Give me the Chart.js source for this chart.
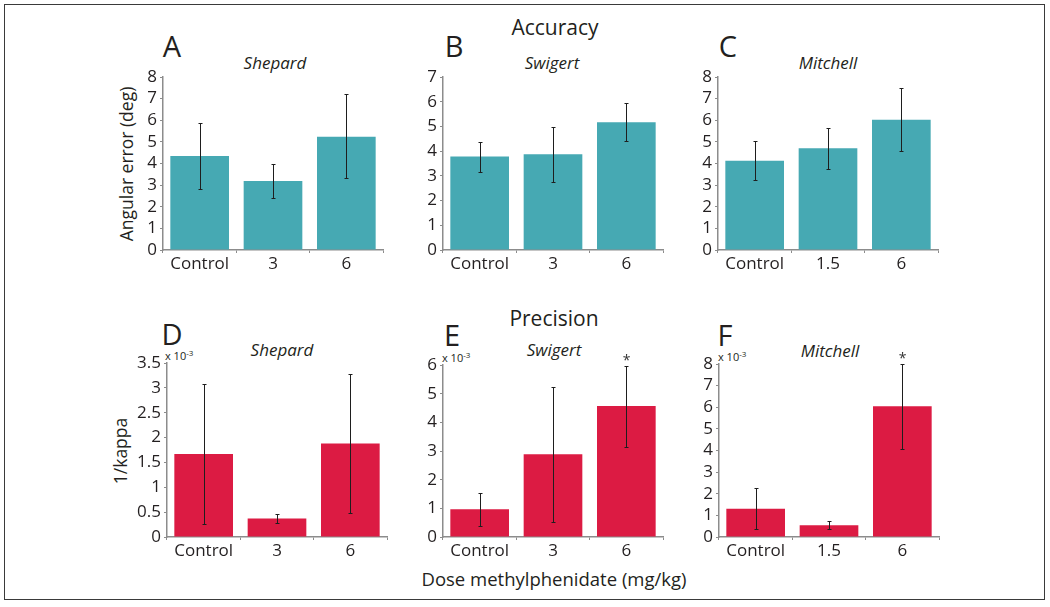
<!DOCTYPE html>
<html>
<head>
<meta charset="utf-8">
<script src="https://cdn.jsdelivr.net/npm/chart.js@4.4.0/dist/chart.umd.min.js"></script>
<style>
body { margin: 0; background: #fff; font-family: "Open Sans", sans-serif; color: #231f20; }
#fig { position: relative; width: 1050px; height: 607px; overflow: hidden; }
#frame { position: absolute; left: 4px; top: 4px; width: 1039px; height: 594px; border: 1.5px solid #3a3a3a; }
canvas { position: absolute; }
.t { position: absolute; white-space: nowrap; line-height: 1; transform: translate(-50%, -50%); }
.big { font-size: 21px; }
.letter { font-size: 29px; }
.sub { font-size: 17px; font-style: italic; }
.ytitle { font-size: 17.5px; transform: translate(-50%, -50%) rotate(-90deg); }
.exp { position: absolute; font-size: 11px; line-height: 1; white-space: nowrap; }
.exp sup { font-size: 8px; vertical-align: 4px; }
</style>
</head>
<body>
<div id="fig">
  <div id="frame"></div>

  <div class="t big" style="left:555px;top:27px">Accuracy</div>
  <div class="t big" style="left:554px;top:318px">Precision</div>

  <div class="t letter" style="left:172px;top:45px">A</div>
  <div class="t letter" style="left:454px;top:45px">B</div>
  <div class="t letter" style="left:728px;top:45px">C</div>
  <div class="t letter" style="left:172px;top:333px">D</div>
  <div class="t letter" style="left:452px;top:334px">E</div>
  <div class="t letter" style="left:725px;top:334px">F</div>

  <div class="t sub" style="left:275px;top:62px">Shepard</div>
  <div class="t sub" style="left:552px;top:62px">Swigert</div>
  <div class="t sub" style="left:828px;top:62px">Mitchell</div>
  <div class="t sub" style="left:282px;top:349px">Shepard</div>
  <div class="t sub" style="left:554px;top:349px">Swigert</div>
  <div class="t sub" style="left:830px;top:350px">Mitchell</div>

  <div class="t ytitle" style="left:127px;top:164px">Angular error (deg)</div>
  <div class="t ytitle" style="left:121px;top:451px">1/kappa</div>
  <div class="t" style="left:554px;top:579px;font-size:18.5px">Dose methylphenidate (mg/kg)</div>

  <div class="exp" style="left:165px;top:349px">x 10<sup>-3</sup></div>
  <div class="exp" style="left:442px;top:351px">x 10<sup>-3</sup></div>
  <div class="exp" style="left:718px;top:350px">x 10<sup>-3</sup></div>
</div>

<script>
// categories
const dosesSS = ['Control', '3', '6'];
const dosesM = ['Control', '1.5', '6'];

// Accuracy: angular error (deg), mean with error bar low / high
const accShepard = [4.35, 3.19, 5.24];
const accShepardLo = [2.80, 2.40, 3.32];
const accShepardHi = [5.85, 4.00, 7.22];

const accSwigert = [3.78, 3.87, 5.17];
const accSwigertLo = [3.15, 2.75, 4.41];
const accSwigertHi = [4.37, 4.97, 5.96];

const accMitchell = [4.13, 4.71, 6.02];
const accMitchellLo = [3.24, 3.75, 4.57];
const accMitchellHi = [5.03, 5.62, 7.51];

// Precision: 1/kappa (x 10^-3)
const precShepard = [1.67, 0.37, 1.88];
const precShepardLo = [0.27, 0.28, 0.48];
const precShepardHi = [3.08, 0.46, 3.28];

const precSwigert = [0.97, 2.89, 4.57];
const precSwigertLo = [0.37, 0.52, 3.13];
const precSwigertHi = [1.55, 5.25, 5.98];

const precMitchell = [1.31, 0.54, 6.05];
const precMitchellLo = [0.37, 0.38, 4.09];
const precMitchellHi = [2.27, 0.72, 8.00];

// significance markers
const sigNone = [false, false, false];
const sigHigh = [false, false, true];

const TEAL = '#46a9b3';
const RED = '#dc1b43';
const AXIS = '#8c8c8c';
const FONT = '"Open Sans", sans-serif';

const errorBars = {
    id: 'errorBars',
    afterDatasetsDraw(chart, args, opts) {
        const ctx = chart.ctx;
        const y = chart.scales.y;
        const meta = chart.getDatasetMeta(0);
        ctx.save();
        ctx.strokeStyle = '#1e1e1e';
        ctx.fillStyle = '#333';
        ctx.lineWidth = 1;
        ctx.font = '14px ' + FONT;
        ctx.textAlign = 'center';
        ctx.textBaseline = 'alphabetic';
        meta.data.forEach(function(bar, i) {
            const top = Math.round(y.getPixelForValue(opts.hi[i])) + 0.5;
            const bot = Math.round(y.getPixelForValue(opts.lo[i])) + 0.5;
            const x = Math.round(bar.x) + 0.5;
            ctx.beginPath();
            ctx.moveTo(x, top); ctx.lineTo(x, bot);
            ctx.moveTo(x - 2, top); ctx.lineTo(x + 2, top);
            ctx.moveTo(x - 2, bot); ctx.lineTo(x + 2, bot);
            ctx.stroke();
            if (opts.sig[i]) {
                ctx.fillText('*', x, top - 2);
            }
        });
        ctx.restore();
    }
};

// area: chart area in page pixels
function makePanel(area, labels, values, lo, hi, sig, max, step, color) {
    const padTop = 22, padRight = 12, yw = 60, xh = 28;
    const canvas = document.createElement('canvas');
    const w = yw + (area.right - area.left) + padRight;
    const h = padTop + (area.bottom - area.top) + xh;
    canvas.width = w;
    canvas.height = h;
    canvas.style.left = (area.left - yw) + 'px';
    canvas.style.top = (area.top - padTop) + 'px';
    canvas.style.width = w + 'px';
    canvas.style.height = h + 'px';
    document.getElementById('fig').appendChild(canvas);

    new Chart(canvas.getContext('2d'), {
        type: 'bar',
        data: {
            labels: labels,
            datasets: [{
                data: values,
                backgroundColor: color,
                borderWidth: 0,
                barPercentage: 0.8,
                categoryPercentage: 1.0
            }]
        },
        options: {
            responsive: false,
            animation: false,
            layout: { padding: { top: padTop, right: padRight, left: 0, bottom: 0 } },
            plugins: {
                legend: { display: false },
                tooltip: { enabled: false },
                errorBars: { lo: lo, hi: hi, sig: sig }
            },
            scales: {
                x: {
                    grid: { display: true, drawOnChartArea: false, tickLength: 3, color: AXIS },
                    border: { color: AXIS, width: 1.5 },
                    ticks: { color: '#231f20', font: { family: FONT, size: 17 }, padding: 1 },
                    afterFit: function(s) { s.height = xh; }
                },
                y: {
                    min: 0,
                    max: max,
                    grid: { display: true, drawOnChartArea: false, tickLength: 3, color: AXIS },
                    border: { color: AXIS, width: 1.5 },
                    ticks: {
                        stepSize: step,
                        autoSkip: false,
                        color: '#231f20',
                        font: { family: FONT, size: 17 },
                        padding: 3,
                        callback: function(v) { return String(Number(v)); }
                    },
                    afterFit: function(s) { s.width = yw; }
                }
            }
        },
        plugins: [errorBars]
    });
}

makePanel({ left: 163, right: 383, top: 77, bottom: 250 }, dosesSS, accShepard, accShepardLo, accShepardHi, sigNone, 8, 1, TEAL);
makePanel({ left: 443, right: 663, top: 77, bottom: 250 }, dosesSS, accSwigert, accSwigertLo, accSwigertHi, sigNone, 7, 1, TEAL);
makePanel({ left: 718, right: 938, top: 77, bottom: 250 }, dosesM, accMitchell, accMitchellLo, accMitchellHi, sigNone, 8, 1, TEAL);
makePanel({ left: 167, right: 387, top: 363, bottom: 537 }, dosesSS, precShepard, precShepardLo, precShepardHi, sigNone, 3.5, 0.5, RED);
makePanel({ left: 443, right: 663, top: 365, bottom: 537 }, dosesSS, precSwigert, precSwigertLo, precSwigertHi, sigHigh, 6, 1, RED);
makePanel({ left: 719, right: 939, top: 364, bottom: 537 }, dosesM, precMitchell, precMitchellLo, precMitchellHi, sigHigh, 8, 1, RED);
</script>
</body>
</html>
